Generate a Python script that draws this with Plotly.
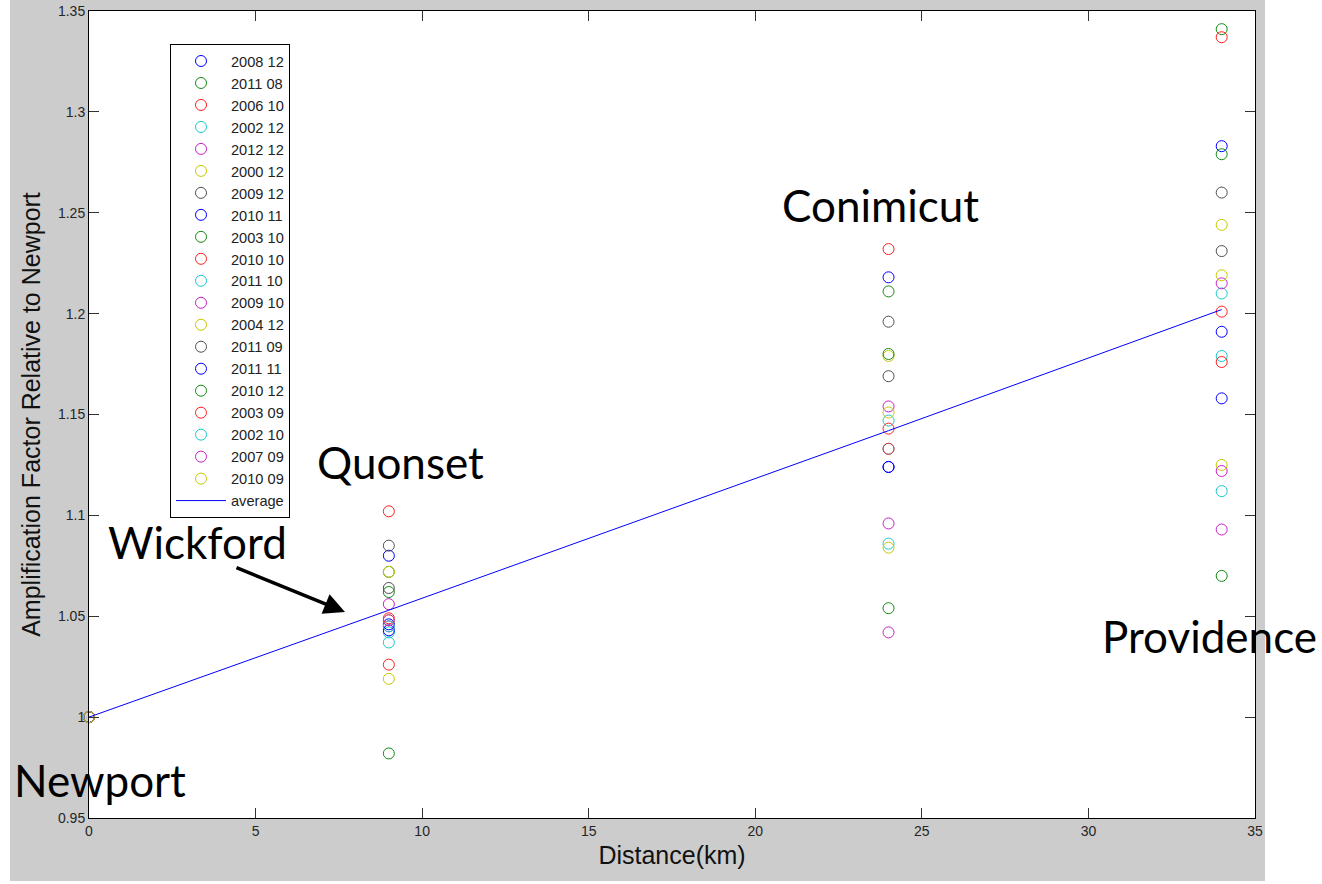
import plotly.graph_objects as go

distances = [0, 9, 24, 34]
series_names = ["2008 12", "2011 08", "2006 10", "2002 12", "2012 12", "2000 12", "2009 12",
                "2010 11", "2003 10", "2010 10", "2011 10", "2009 10", "2004 12", "2011 09",
                "2011 11", "2010 12", "2003 09", "2002 10", "2007 09", "2010 09"]
series_values = [
    [1.0, 1.080, 1.218, 1.283],  # 2008 12
    [1.0, 1.072, 1.211, 1.341],  # 2011 08
    [1.0, 1.102, 1.232, 1.337],  # 2006 10
    [1.0, 1.042, 1.147, 1.210],  # 2002 12
    [1.0, 1.056, 1.154, 1.215],  # 2012 12
    [1.0, 1.072, 1.179, 1.244],  # 2000 12
    [1.0, 1.085, 1.196, 1.260],  # 2009 12
    [1.0, 1.046, 1.124, 1.191],  # 2010 11
    [1.0, 1.062, 1.180, 1.279],  # 2003 10
    [1.0, 1.049, 1.143, 1.201],  # 2010 10
    [1.0, 1.037, 1.133, 1.179],  # 2011 10
    [1.0, 1.045, 1.096, 1.122],  # 2009 10
    [1.0, 1.048, 1.151, 1.219],  # 2004 12
    [1.0, 1.064, 1.169, 1.231],  # 2011 09
    [1.0, 1.043, 1.124, 1.158],  # 2011 11
    [1.0, 0.982, 1.054, 1.070],  # 2010 12
    [1.0, 1.026, 1.133, 1.176],  # 2003 09
    [1.0, 1.045, 1.086, 1.112],  # 2002 10
    [1.0, 1.048, 1.042, 1.093],  # 2007 09
    [1.0, 1.019, 1.084, 1.125],  # 2010 09
]
average_values = [1.0, 1.053, 1.142, 1.202]
station_names = ["Newport", "Wickford", "Quonset", "Conimicut", "Providence"]
x_ticks = [0, 5, 10, 15, 20, 25, 30, 35]
y_ticks = [0.95, 1.0, 1.05, 1.1, 1.15, 1.2, 1.25, 1.3, 1.35]
y_tick_labels = ["0.95", "1", "1.05", "1.1", "1.15", "1.2", "1.25", "1.3", "1.35"]

palette = ["#0000ff", "#138a13", "#ff2020", "#19c8c8", "#c820c8", "#c8c800", "#505050"]

fig = go.Figure()
for i, (name, vals) in enumerate(zip(series_names, series_values)):
    fig.add_trace(go.Scatter(
        x=distances, y=vals, name=name, mode="markers", cliponaxis=False,
        marker=dict(symbol="circle-open", size=11, color=palette[i % 7], line=dict(width=1)),
    ))
fig.add_trace(go.Scatter(x=distances, y=average_values, name="average", mode="lines",
                         line=dict(color="#0000ff", width=1)))

L, R, T, B = 89, 67, 11, 66
W, H = 1322, 884
pw, ph = W - L - R, H - T - B

def px(xp):
    return (xp - L) / pw

def py(yp):
    return (H - B - yp) / ph

axis_common = dict(showgrid=False, zeroline=False, showline=True, linecolor="black", linewidth=1,
                   mirror="ticks", ticks="inside", ticklen=10, tickcolor="#333333", automargin=False,
                   tickfont=dict(family="Liberation Sans", size=14, color="#262626"))
fig.update_xaxes(range=[0, 35], tickvals=x_ticks, title=dict(text="Distance(km)", standoff=8,
                 font=dict(family="Liberation Sans", size=25, color="#111111")), **axis_common)
fig.update_yaxes(range=[0.95, 1.35], tickvals=y_ticks, ticktext=y_tick_labels,
                 title=dict(text="Amplification Factor Relative to Newport", standoff=10,
                            font=dict(family="Liberation Sans", size=25, color="#111111")), **axis_common)

ann_font = dict(family="Lato", size=44, color="black")
labels_pos = [(100, 780), (197, 542), (400, 462), (880, 205), (1209, 636)]
annotations = []
for name, (xp, yp) in zip(station_names, labels_pos):
    annotations.append(dict(text=name, x=px(xp), y=py(yp), xref="paper", yref="paper",
                            showarrow=False, font=ann_font, xanchor="center", yanchor="middle"))
annotations.append(dict(text="", x=px(345), y=py(612), ax=235 - 345, ay=567 - 612, xref="paper", yref="paper",
                        axref="pixel", ayref="pixel", showarrow=True, arrowhead=2, arrowsize=1.2,
                        arrowwidth=3.5, arrowcolor="black"))

shapes = [
    dict(type="rect", xref="paper", yref="paper", x0=px(0), x1=px(10), y0=py(H), y1=py(0),
         fillcolor="white", line=dict(width=0), layer="above"),
    dict(type="rect", xref="paper", yref="paper", x0=px(1265), x1=px(W), y0=py(H), y1=py(0),
         fillcolor="white", line=dict(width=0), layer="above"),
    dict(type="rect", xref="paper", yref="paper", x0=px(0), x1=px(W), y0=py(H), y1=py(881),
         fillcolor="white", line=dict(width=0), layer="above"),
]

fig.update_layout(
    width=W, height=H, margin=dict(l=L, r=R, t=T, b=B, autoexpand=False),
    paper_bgcolor="#cccccc", plot_bgcolor="white",
    annotations=annotations, shapes=shapes,
    legend=dict(x=px(170), y=py(44), xanchor="left", yanchor="top", bgcolor="white",
                bordercolor="black", borderwidth=1, itemwidth=50,
                font=dict(family="Liberation Sans", size=14.6, color="#222222"),
                tracegroupgap=0),
    showlegend=True,
)
fig.write_html("out.html", config={"displayModeBar": False},
               post_script="document.body.style.margin='0px';")
